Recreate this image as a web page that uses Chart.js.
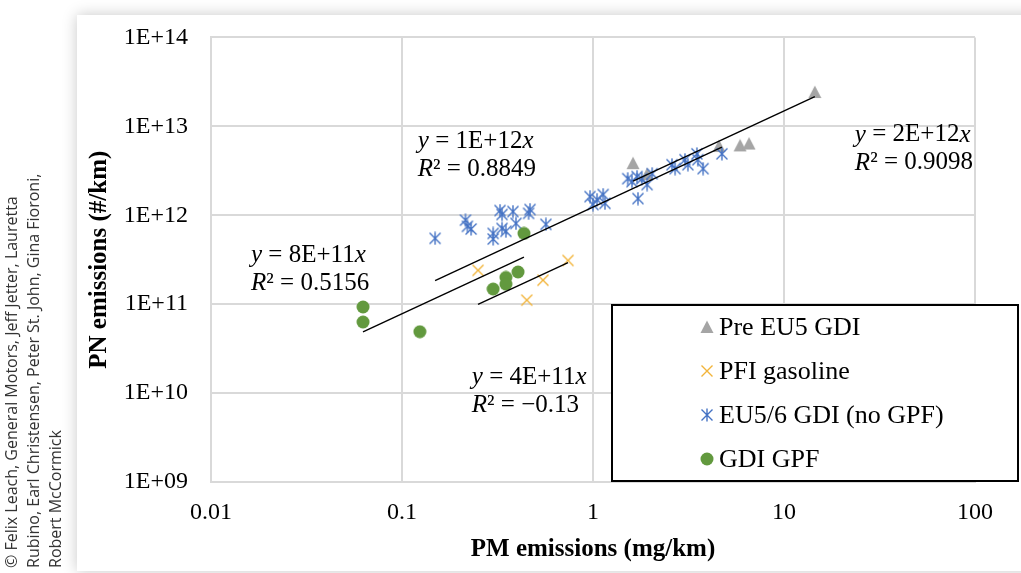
<!DOCTYPE html>
<html lang="en">
<head>
    <meta charset="UTF-8">
    <title>PN vs PM emissions</title>
    <script src="https://cdn.jsdelivr.net/npm/chart.js"></script>
    <style>
        body {
            margin: 0;
            background: #fff;
            width: 1021px;
            height: 573px;
            overflow: hidden;
            position: relative;
        }
        .card {
            position: absolute;
            left: 77px;
            top: 15px;
            width: 1000px;
            height: 556px;
            background: #fff;
            box-shadow: 0 0 14px rgba(0, 0, 0, 0.22);
        }
        #chart {
            position: absolute;
            left: 0;
            top: 0;
        }
        .credit {
            position: absolute;
            left: 0;
            top: 568px;
            width: 440px;
            transform-origin: 0 0;
            transform: rotate(-90deg);
            font: 16px 'Open Sans', sans-serif;
            line-height: 22px;
            color: #333;
            white-space: nowrap;
        }
    </style>
</head>
<body>
    <div class="card"></div>
    <canvas id="chart" width="1021" height="573"></canvas>
    <div class="credit">© Felix Leach, General Motors, Jeff Jetter, Lauretta<br>Rubino, Earl Christensen, Peter St. John, Gina Fioroni,<br>Robert McCormick</div>

    <script>
        // axis ticks
        const xTickValues = [0.01, 0.1, 1, 10, 100];
        const xTickLabels = ['0.01', '0.1', '1', '10', '100'];
        const yTickValues = [1e9, 1e10, 1e11, 1e12, 1e13, 1e14];
        const yTickLabels = ['1E+09', '1E+10', '1E+11', '1E+12', '1E+13', '1E+14'];

        // series (PM mg/km, PN #/km)
        const preEu5X = [1.62, 1.92, 4.57, 5.89, 6.56, 14.5];
        const preEu5Y = [3.85e12, 2.9e12, 6.0e12, 6.1e12, 6.4e12, 2.43e13];

        const pfiX = [0.25, 0.45, 0.547, 0.74];
        const pfiY = [2.4e11, 1.11e11, 1.86e11, 3.1e11];

        const eu56X = [0.149, 0.215, 0.22, 0.23, 0.30, 0.30, 0.326, 0.334, 0.334, 0.35, 0.381, 0.395, 0.468, 0.46, 0.567,
                       0.965, 1.05, 1.13, 1.0, 1.155,
                       1.52, 1.6, 1.7, 1.8, 2.04, 1.92, 1.72,
                       2.59, 2.69, 3.03, 3.14, 3.5, 3.54, 3.77, 4.73];
        const eu56Y = [5.5e11, 8.8e11, 7.5e11, 7.0e11, 6.25e11, 5.4e11, 1.13e12, 1.02e12, 7.1e11, 6.6e11, 1.1e12, 8.1e11, 1.16e12, 1.05e12, 7.9e11,
                       1.62e12, 1.5e12, 1.71e12, 1.32e12, 1.36e12,
                       2.58e12, 2.39e12, 2.72e12, 2.58e12, 2.93e12, 2.21e12, 1.54e12,
                       3.7e12, 3.34e12, 4.21e12, 3.7e12, 4.9e12, 4.21e12, 3.34e12, 4.9e12];

        const gpfX = [0.0625, 0.0625, 0.124, 0.30, 0.35, 0.35, 0.405, 0.435];
        const gpfY = [9.3e10, 6.3e10, 4.9e10, 1.48e11, 2.0e11, 1.68e11, 2.3e11, 6.25e11];

        const seriesNames = ['Pre EU5 GDI', 'PFI gasoline', 'EU5/6 GDI (no GPF)', 'GDI GPF'];

        // trendline equations as printed on the chart
        const fitEquations = ['2E+12', '4E+11', '1E+12', '8E+11'];
        const fitR2 = ['0.9098', '\u22120.13', '0.8849', '0.5156'];
        // where each equation label sits (data coords, left / middle of first line)
        const fitLabelAt = [[23.5, 8.0e12], [0.232, 1.49e10], [0.121, 6.7e12], [0.0162, 3.55e11]];

        const colors = ['#a5a5a5', '#f2b43a', '#4472c4', '#62993e'];
        const serif = "'Liberation Serif', 'Times New Roman', serif";

        function makeMarker(kind, color) {
            const c = document.createElement('canvas');
            c.width = 14; c.height = 14;
            const g = c.getContext('2d');
            g.fillStyle = color;
            g.strokeStyle = color;
            g.lineWidth = 1.4;
            if (kind === 'triangle') {
                g.beginPath();
                g.moveTo(7, 0.5); g.lineTo(13.5, 13); g.lineTo(0.5, 13);
                g.closePath(); g.fill();
            } else if (kind === 'cross' || kind === 'asterisk') {
                g.beginPath();
                g.moveTo(1.5, 1.5); g.lineTo(12.5, 12.5);
                g.moveTo(12.5, 1.5); g.lineTo(1.5, 12.5);
                if (kind === 'asterisk') { g.moveTo(7, 0.5); g.lineTo(7, 13.5); }
                g.stroke();
            } else {
                g.beginPath();
                g.arc(7, 7, 6.5, 0, Math.PI * 2);
                g.fill();
            }
            return c;
        }
        const markers = [
            makeMarker('triangle', colors[0]),
            makeMarker('cross', colors[1]),
            makeMarker('asterisk', colors[2]),
            makeMarker('circle', colors[3])
        ];

        const allX = [preEu5X, pfiX, eu56X, gpfX];
        const allY = [preEu5Y, pfiY, eu56Y, gpfY];

        function toPoints(xs, ys) {
            return xs.map((x, i) => ({ x: x, y: ys[i] }));
        }

        // linear trendline through origin (least squares), drawn over the series x-range
        function trend(xs, ys) {
            let sxy = 0, sxx = 0;
            xs.forEach((x, i) => { sxy += x * ys[i]; sxx += x * x; });
            const k = sxy / sxx;
            const lo = Math.min(...xs), hi = Math.max(...xs);
            return [{ x: lo, y: k * lo }, { x: hi, y: k * hi }];
        }

        const datasets = [];
        allX.forEach((xs, i) => {
            datasets.push({
                type: 'line',
                label: seriesNames[i] + ' fit',
                data: trend(xs, allY[i]),
                borderColor: '#000',
                borderWidth: 1.4,
                pointRadius: 0,
                fill: false,
                order: 0
            });
        });
        allX.forEach((xs, i) => {
            datasets.push({
                type: 'scatter',
                label: seriesNames[i],
                data: toPoints(xs, allY[i]),
                pointStyle: markers[i],
                pointRadius: 7,
                order: 4 - i
            });
        });

        function drawRich(ctx, x, y, parts) {
            let cx = x;
            parts.forEach(p => {
                ctx.font = (p[1] ? 'italic ' : '') + '25px ' + serif;
                ctx.fillText(p[0], cx, y);
                cx += ctx.measureText(p[0]).width;
            });
        }

        const fitLabels = {
            id: 'fitLabels',
            afterDatasetsDraw(chart) {
                const ctx = chart.ctx;
                const xs = chart.scales.x, ys = chart.scales.y;
                ctx.save();
                ctx.fillStyle = '#000';
                ctx.textBaseline = 'middle';
                ctx.textAlign = 'left';
                fitLabelAt.forEach((p, i) => {
                    const px = xs.getPixelForValue(p[0]);
                    const py = ys.getPixelForValue(p[1]);
                    drawRich(ctx, px, py, [['y', true], [' = ' + fitEquations[i], false], ['x', true]]);
                    drawRich(ctx, px, py + 28, [['R', true], ['\u00b2 = ' + fitR2[i], false]]);
                });
                ctx.restore();
            }
        };

        const boxLegend = {
            id: 'boxLegend',
            afterDraw(chart) {
                const ctx = chart.ctx;
                ctx.save();
                ctx.fillStyle = '#fff';
                ctx.fillRect(612, 305, 406, 176);
                ctx.strokeStyle = '#000';
                ctx.lineWidth = 2;
                ctx.strokeRect(612, 305, 406, 176);
                ctx.font = '26px ' + serif;
                ctx.fillStyle = '#000';
                ctx.textBaseline = 'middle';
                seriesNames.forEach((name, i) => {
                    const y = 327 + i * 44;
                    ctx.drawImage(markers[i], 700, y - 7);
                    ctx.fillText(name, 719, y + 1);
                });
                ctx.restore();
            }
        };

        const gridStyle = { color: '#d9d9d9', lineWidth: 2, drawTicks: false };

        new Chart(document.getElementById('chart').getContext('2d'), {
            data: { datasets: datasets },
            options: {
                responsive: false,
                animation: false,
                devicePixelRatio: 1,
                layout: { padding: { left: 78, top: 35, right: 46, bottom: 0 } },
                plugins: { legend: { display: false }, tooltip: { enabled: false } },
                scales: {
                    x: {
                        type: 'logarithmic',
                        min: 0.01,
                        max: 100,
                        grid: gridStyle,
                        border: { color: '#d9d9d9', width: 2 },
                        afterBuildTicks: s => { s.ticks = xTickValues.map(v => ({ value: v })); },
                        afterFit: s => { s.height = 91; },
                        ticks: {
                            autoSkip: false,
                            maxRotation: 0,
                            padding: 16,
                            color: '#000',
                            font: { family: serif, size: 24 },
                            callback: (v, i) => xTickLabels[i]
                        },
                        title: {
                            display: true,
                            text: 'PM emissions (mg/km)',
                            color: '#000',
                            font: { family: serif, size: 25, weight: 'bold' },
                            padding: { top: 0, bottom: 8 }
                        }
                    },
                    y: {
                        type: 'logarithmic',
                        min: 1e9,
                        max: 1e14,
                        grid: gridStyle,
                        border: { color: '#d9d9d9', width: 2 },
                        afterBuildTicks: s => { s.ticks = yTickValues.map(v => ({ value: v })); },
                        afterFit: s => { s.width = 133; },
                        ticks: {
                            autoSkip: false,
                            padding: 23,
                            color: '#000',
                            font: { family: serif, size: 24 },
                            callback: (v, i) => yTickLabels[i]
                        },
                        title: {
                            display: true,
                            text: 'PN emissions (#/km)',
                            color: '#000',
                            font: { family: serif, size: 25, weight: 'bold' },
                            padding: { top: 7, bottom: 0 }
                        }
                    }
                }
            },
            plugins: [fitLabels, boxLegend]
        });
    </script>
</body>
</html>
